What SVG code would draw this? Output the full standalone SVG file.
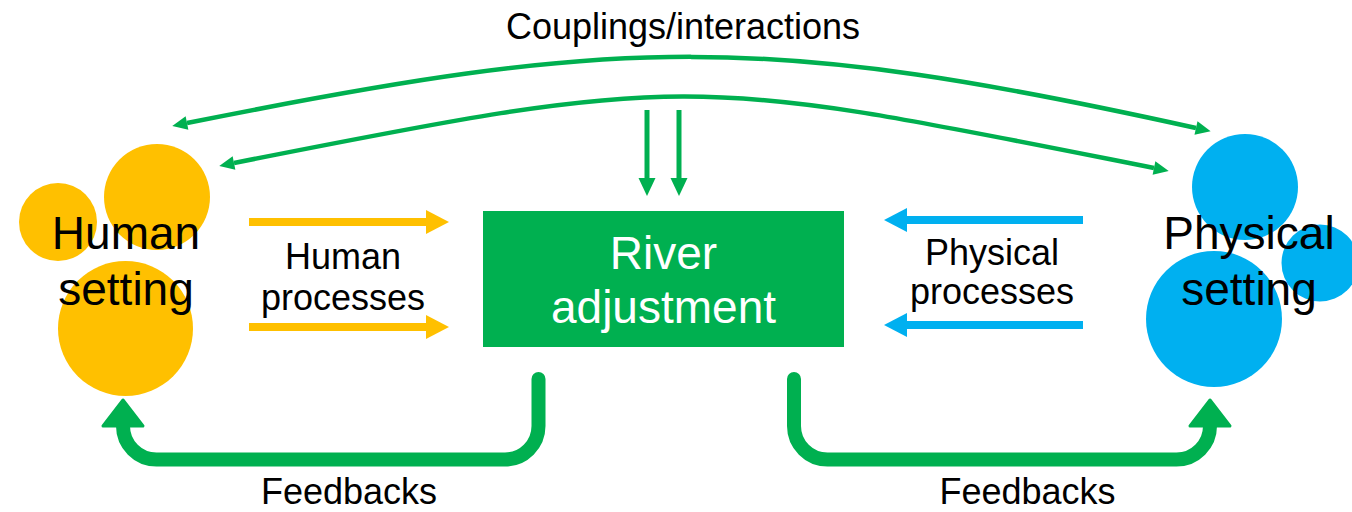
<svg xmlns="http://www.w3.org/2000/svg" width="1352" height="512" viewBox="0 0 1352 512">
<style>
text{font-family:"Liberation Sans",Arial,sans-serif;fill:#000;text-anchor:middle}
.big{font-size:46px}
.lbl{font-size:36px}
.white{fill:#fff}
.yel{fill:#FFC000}
.blu{fill:#00B0F0}
.g{fill:none;stroke:#00B050}
</style>
<defs>
<marker id="mThin" markerUnits="userSpaceOnUse" markerWidth="20" markerHeight="20" refX="0" refY="7" orient="auto-start-reverse" overflow="visible"><polygon points="0,0 15,7 0,14" fill="#00B050"/></marker>
<marker id="mVert" markerUnits="userSpaceOnUse" markerWidth="20" markerHeight="20" refX="0" refY="8.5" orient="auto" overflow="visible"><polygon points="0,0 18,8.5 0,17" fill="#00B050"/></marker>
<marker id="mYel" markerUnits="userSpaceOnUse" markerWidth="30" markerHeight="30" refX="0" refY="12" orient="auto" overflow="visible"><polygon points="0,0 23,12 0,24" fill="#FFC000"/></marker>
<marker id="mBlu" markerUnits="userSpaceOnUse" markerWidth="30" markerHeight="30" refX="0" refY="12" orient="auto" overflow="visible"><polygon points="0,0 23,12 0,24" fill="#00B0F0"/></marker>
<marker id="mFb" markerUnits="userSpaceOnUse" markerWidth="50" markerHeight="50" refX="0" refY="20" orient="auto" overflow="visible"><polygon points="0,0 26,20 0,40" fill="#00B050" stroke="#00B050" stroke-width="3" stroke-linejoin="round"/></marker>
</defs>
<rect width="1352" height="512" fill="#fff"/>
<g id="human-setting">
<circle class="yel" cx="58" cy="222" r="39"/>
<circle class="yel" cx="157" cy="197" r="53"/>
<circle class="yel" cx="125.5" cy="328.5" r="67.5"/>
<text class="big" x="126" y="249">Human</text>
<text class="big" x="126" y="305">setting</text>
</g>
<g id="physical-setting">
<circle class="blu" cx="1245" cy="187" r="53"/>
<circle class="blu" cx="1320" cy="263" r="38.5"/>
<circle class="blu" cx="1214" cy="319" r="68"/>
<text class="big" x="1249" y="249">Physical</text>
<text class="big" x="1249" y="305">setting</text>
</g>
<g id="river-adjustment">
<rect x="483" y="211" width="361" height="136" fill="#00B050"/>
<text class="big white" x="663.5" y="269">River</text>
<text class="big white" x="663.5" y="323">adjustment</text>
</g>
<g id="connectors">
<path class="g" stroke-width="4.5" d="M187 123 C621 36 762 32 1196 128" marker-start="url(#mThin)" marker-end="url(#mThin)"/>
<path class="g" stroke-width="4.5" d="M234 163 C697 71 691 76 1154 168" marker-start="url(#mThin)" marker-end="url(#mThin)"/>
<path class="g" stroke-width="5" d="M647 110 V178" marker-end="url(#mVert)"/>
<path class="g" stroke-width="5" d="M679 110 V178" marker-end="url(#mVert)"/>
<path fill="none" stroke="#FFC000" stroke-width="8" d="M249 222 H426" marker-end="url(#mYel)"/>
<path fill="none" stroke="#FFC000" stroke-width="8" d="M249 327 H426" marker-end="url(#mYel)"/>
<path fill="none" stroke="#00B0F0" stroke-width="8" d="M1083 220 H907" marker-end="url(#mBlu)"/>
<path fill="none" stroke="#00B0F0" stroke-width="8" d="M1083 325 H907" marker-end="url(#mBlu)"/>
<path class="g" stroke-width="14" stroke-linecap="round" d="M538.5 379 V426 A33.5 33.5 0 0 1 505 459.5 H156.5 A33.5 33.5 0 0 1 123 426" marker-end="url(#mFb)"/>
<path class="g" stroke-width="14" stroke-linecap="round" d="M794 379 V426 A33.5 33.5 0 0 0 827.5 459.5 H1176.5 A33.5 33.5 0 0 0 1210 426" marker-end="url(#mFb)"/>
</g>
<g id="labels">
<text class="lbl" x="683" y="39">Couplings/interactions</text>
<text class="lbl" x="343" y="269">Human</text>
<text class="lbl" x="343" y="310">processes</text>
<text class="lbl" x="992" y="265">Physical</text>
<text class="lbl" x="992" y="304">processes</text>
<text class="lbl" x="349" y="504">Feedbacks</text>
<text class="lbl" x="1027.5" y="504">Feedbacks</text>
</g>
</svg>
